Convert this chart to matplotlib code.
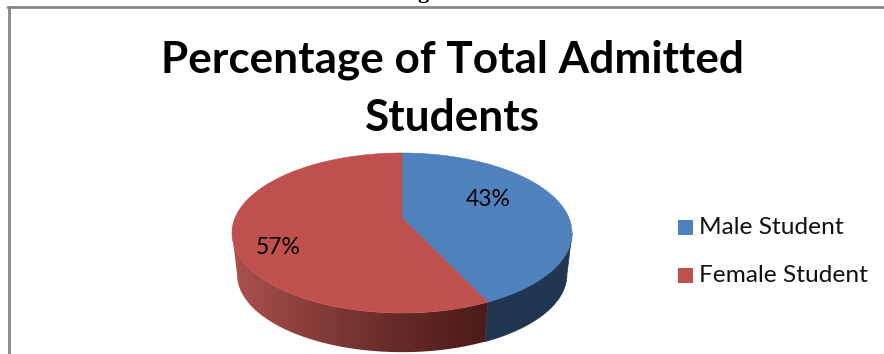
import numpy as np
import matplotlib
matplotlib.use("Agg")
import matplotlib.pyplot as plt
from matplotlib.patches import Polygon, Rectangle
from matplotlib.colors import LinearSegmentedColormap

categories = ["Male Student", "Female Student"]
shares = [43, 57]
top_colors = ["#4F81BD", "#C0504D"]
title_lines = ["Percentage of Total Admitted", "Students"]

W, H = 884, 354
fig = plt.figure(figsize=(W / 100, H / 100), dpi=100, facecolor="white")
ax = fig.add_axes([0, 0, 1, 1])
ax.set_xlim(0, W)
ax.set_ylim(H, 0)
ax.axis("off")

# Perspective projection of a tilted disc onto the page
CX, CY = 402.0, 218.0
AX_U, AX_V, TILT = 167.0, 77.2, 0.1875
WALL_Y, WALL_SCALE = 260.0, 0.97

# Rim positions where the projected disc is widest; the side wall starts there
WIDEST = np.arccos(-TILT) / (2 * np.pi)


def rim(frac_from, frac_to, base=False, n=240):
    """Rim points for a clockwise arc, with fractions measured from 12 o'clock."""
    t = 2 * np.pi * np.linspace(frac_from, frac_to, n)
    u, v = np.sin(t), np.cos(t)
    d = 1 + TILT * v
    x, y = AX_U * u / d, -AX_V * v / d
    if base:
        return CX + WALL_SCALE * x, WALL_Y + WALL_SCALE * y
    return CX + x, CY + y


fractions = np.cumsum([0] + shares) / sum(shares)
split = fractions[1]

# Side wall of the male slice: flat dark navy
xt, yt = rim(WIDEST, split)
xb, yb = rim(WIDEST, split, base=True)
ax.add_patch(Polygon(np.r_[np.c_[xt, yt], np.c_[xb, yb][::-1]],
                     closed=True, fc="#1F3550", ec="#1F3550", lw=0.5, zorder=2))

# Side wall of the female slice: horizontal shading from brick to near-black red
xt, yt = rim(split, 1 - WIDEST)
xb, yb = rim(split, 1 - WIDEST, base=True)
wall = Polygon(np.r_[np.c_[xt, yt], np.c_[xb, yb][::-1]],
               closed=True, fc="none", ec="none", transform=ax.transData)
ax.add_patch(wall)
shade = LinearSegmentedColormap.from_list(
    "wall", ["#AC514E", "#8F413E", "#733230", "#5E2523", "#4A1B19"])
x0, x1 = xt.min(), xt.max() + 1
grad = ax.imshow(np.linspace(0, 1, 256)[None, :], cmap=shade, aspect="auto",
                 extent=(x0, x1, H, 0), zorder=2)
grad.set_clip_path(wall)
ax.set_xlim(0, W)
ax.set_ylim(H, 0)

# Top face of the pie
for i, color in enumerate(top_colors):
    x, y = rim(fractions[i], fractions[i + 1])
    ax.add_patch(Polygon(np.r_[[[CX, CY]], np.c_[x, y]], closed=True,
                         fc=color, ec=color, lw=0.4, zorder=3))

# Value labels
ax.text(488, 199.5, f"{shares[0]}%", ha="center", va="center",
        fontsize=16.5, family="Lato", color="black", zorder=4)
ax.text(278, 248, f"{shares[1]}%", ha="center", va="center",
        fontsize=16.5, family="Lato", color="black", zorder=4)

# Title
for line, baseline in zip(title_lines, [73, 131]):
    ax.text(452.5, baseline, line, ha="center", va="baseline",
            fontsize=31.8, family="Lato", weight="bold", color="black")

# Legend
for label, color, yc in zip(categories, top_colors, [227, 275]):
    ax.add_patch(Rectangle((678, yc - 7.5), 15, 15, fc=color, ec="none"))
    ax.text(699, yc + 0.5, label, ha="left", va="center", fontsize=17.6,
            family="Lato", color="#111111")

# Chart frame, open on the right and bottom
ax.plot([9, 9], [H, 7], color="#868686", lw=2.0, solid_joinstyle="miter")
ax.plot([8, W], [7, 7], color="#868686", lw=2.0)

# Tail of the heading letter above the frame
ax.text(423, -2, "g", ha="center", va="baseline", fontsize=16,
        family="Liberation Serif", weight="bold", color="black", clip_on=True)

fig.savefig("out.png", dpi=100, facecolor="white")
